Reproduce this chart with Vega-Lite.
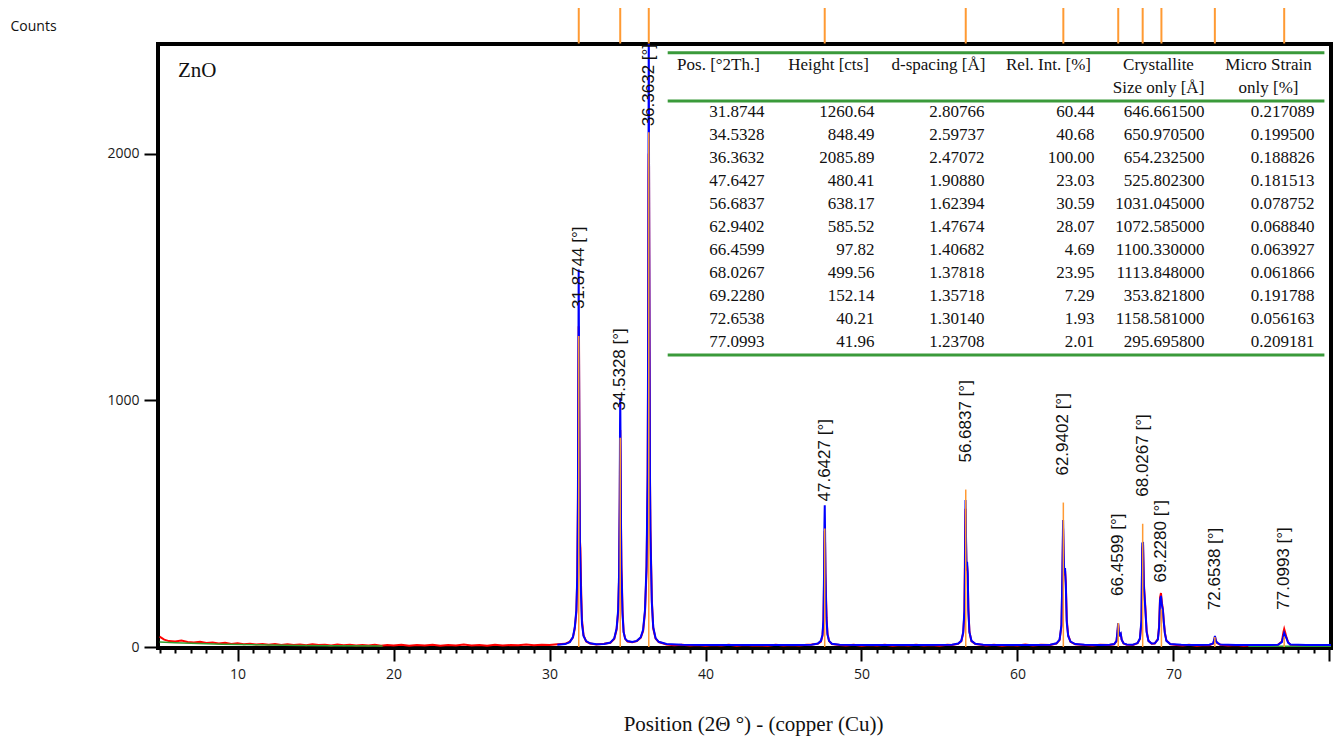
{
  "$schema": "https://vega.github.io/schema/vega-lite/v6.json",
  "width": 1173,
  "height": 604,
  "autosize": {"type": "none"},
  "padding": {"left": 158, "top": 44, "right": 5, "bottom": 90},
  "background": "white",
  "config": {
    "view": {"stroke": "black", "strokeWidth": 4},
    "axis": {"domain": false, "grid": false, "tickColor": "black", "tickWidth": 2, "labelFont": "Open Sans", "labelFontSize": 14, "labelColor": "#1a1a1a"},
    "axisX": {
      "tickCount": 75,
      "labelExpr": "datum.value % 10 === 0 && datum.value < 75 ? datum.label : ''",
      "tickSize": {"condition": {"test": "datum.value % 10 === 0", "value": 13}, "value": 5},
      "labelPadding": 6, "labelOverlap": false, "labelFlush": false, "labelBound": false,
      "titleFont": "Liberation Serif", "titleFontSize": 21, "titleFontWeight": "normal", "titleColor": "#111111",
      "titleX": 595, "titleY": 82, "titleAlign": "center", "titleBaseline": "alphabetic"
    },
    "axisY": {
      "tickCount": 3, "format": "d", "tickSize": 14, "labelPadding": 5,
      "titleAngle": 0, "titleAlign": "left", "titleBaseline": "alphabetic", "titleX": -148, "titleY": -14,
      "titleFont": "Open Sans", "titleFontSize": 14, "titleFontWeight": "normal", "titleColor": "#111111"
    }
  },
  "datasets": {
    "observed": [
      {"tt":5.0,"counts":42},{"tt":5.3,"counts":30},{"tt":5.6,"counts":24},{"tt":6.0,"counts":22},{"tt":6.4,"counts":26},{"tt":6.8,"counts":20},{"tt":7.2,"counts":18},{"tt":7.6,"counts":21},{"tt":8.0,"counts":16},{"tt":8.4,"counts":18},{"tt":8.8,"counts":14},{"tt":9.2,"counts":17},{"tt":9.6,"counts":12},{"tt":10.0,"counts":15},{"tt":10.4,"counts":11},{"tt":10.8,"counts":13},{"tt":11.2,"counts":10},{"tt":11.6,"counts":12},{"tt":12.0,"counts":9},{"tt":12.4,"counts":12},{"tt":12.8,"counts":8},{"tt":13.2,"counts":11},{"tt":13.6,"counts":8},{"tt":14.0,"counts":10},{"tt":14.4,"counts":7},{"tt":14.8,"counts":11},{"tt":15.2,"counts":8},{"tt":15.6,"counts":9},{"tt":16.0,"counts":6},{"tt":16.4,"counts":10},{"tt":16.8,"counts":7},{"tt":17.2,"counts":9},{"tt":17.6,"counts":6},{"tt":18.0,"counts":8},{"tt":18.4,"counts":6},{"tt":18.8,"counts":9},{"tt":19.2,"counts":5},{"tt":19.6,"counts":8},{"tt":20.0,"counts":6},{"tt":20.5,"counts":9},{"tt":21.0,"counts":5},{"tt":21.5,"counts":8},{"tt":22.0,"counts":6},{"tt":22.5,"counts":9},{"tt":23.0,"counts":5},{"tt":23.5,"counts":8},{"tt":24.0,"counts":6},{"tt":24.5,"counts":10},{"tt":25.0,"counts":6},{"tt":25.5,"counts":8},{"tt":26.0,"counts":5},{"tt":26.5,"counts":9},{"tt":27.0,"counts":6},{"tt":27.5,"counts":8},{"tt":28.0,"counts":7},{"tt":28.5,"counts":10},{"tt":29.0,"counts":7},{"tt":29.5,"counts":9},{"tt":30.0,"counts":8},{"tt":30.5,"counts":11},
      {"tt":31.0,"counts":13},{"tt":31.3,"counts":22},{"tt":31.5,"counts":38},{"tt":31.62,"counts":75},{"tt":31.72,"counts":140},{"tt":31.78,"counts":280},{"tt":31.82,"counts":560},{"tt":31.85,"counts":1050},{"tt":31.87,"counts":1300},{"tt":31.89,"counts":1250},{"tt":31.92,"counts":800},{"tt":31.95,"counts":430},{"tt":31.98,"counts":400},{"tt":32.02,"counts":250},{"tt":32.08,"counts":110},{"tt":32.18,"counts":48},{"tt":32.35,"counts":22},{"tt":32.6,"counts":14},{"tt":33.0,"counts":10},{"tt":33.5,"counts":13},{"tt":33.9,"counts":17},
      {"tt":34.15,"counts":33},{"tt":34.3,"counts":70},{"tt":34.4,"counts":140},{"tt":34.46,"counts":280},{"tt":34.5,"counts":560},{"tt":34.52,"counts":780},{"tt":34.535,"counts":880},{"tt":34.55,"counts":800},{"tt":34.58,"counts":520},{"tt":34.61,"counts":330},{"tt":34.64,"counts":260},{"tt":34.68,"counts":150},{"tt":34.75,"counts":62},{"tt":34.85,"counts":33},{"tt":35.0,"counts":22},{"tt":35.3,"counts":19},{"tt":35.6,"counts":24},{"tt":35.85,"counts":38},
      {"tt":36.0,"counts":65},{"tt":36.12,"counts":140},{"tt":36.22,"counts":310},{"tt":36.29,"counts":650},{"tt":36.33,"counts":1300},{"tt":36.35,"counts":1900},{"tt":36.363,"counts":2000},{"tt":36.38,"counts":1950},{"tt":36.41,"counts":1300},{"tt":36.44,"counts":700},{"tt":36.47,"counts":480},{"tt":36.51,"counts":350},{"tt":36.56,"counts":190},{"tt":36.65,"counts":75},{"tt":36.8,"counts":34},{"tt":37.0,"counts":20},{"tt":37.5,"counts":10},{"tt":38.0,"counts":7},{"tt":38.5,"counts":9},{"tt":39.0,"counts":6},{"tt":39.5,"counts":8},{"tt":40.0,"counts":5},{"tt":40.5,"counts":8},{"tt":41.0,"counts":6},{"tt":41.5,"counts":9},{"tt":42.0,"counts":5},{"tt":42.5,"counts":8},{"tt":43.0,"counts":6},{"tt":43.5,"counts":7},{"tt":44.0,"counts":5},{"tt":44.5,"counts":9},{"tt":45.0,"counts":6},{"tt":45.5,"counts":8},{"tt":46.0,"counts":6},{"tt":46.5,"counts":9},
      {"tt":46.8,"counts":10},{"tt":47.2,"counts":13},{"tt":47.4,"counts":22},{"tt":47.5,"counts":45},{"tt":47.56,"counts":100},{"tt":47.6,"counts":260},{"tt":47.625,"counts":420},{"tt":47.645,"counts":470},{"tt":47.665,"counts":420},{"tt":47.69,"counts":300},{"tt":47.72,"counts":220},{"tt":47.76,"counts":120},{"tt":47.82,"counts":55},{"tt":47.92,"counts":24},{"tt":48.1,"counts":12},{"tt":48.6,"counts":8},{"tt":49.0,"counts":6},{"tt":49.5,"counts":9},{"tt":50.0,"counts":5},{"tt":50.5,"counts":8},{"tt":51.0,"counts":6},{"tt":51.5,"counts":9},{"tt":52.0,"counts":5},{"tt":52.5,"counts":8},{"tt":53.0,"counts":6},{"tt":53.5,"counts":9},{"tt":54.0,"counts":6},{"tt":54.5,"counts":8},{"tt":55.0,"counts":5},{"tt":55.5,"counts":9},
      {"tt":55.8,"counts":8},{"tt":56.2,"counts":13},{"tt":56.4,"counts":24},{"tt":56.52,"counts":55},{"tt":56.6,"counts":140},{"tt":56.64,"counts":420},{"tt":56.67,"counts":560},{"tt":56.7,"counts":430},{"tt":56.73,"counts":310},{"tt":56.77,"counts":330},{"tt":56.81,"counts":290},{"tt":56.85,"counts":160},{"tt":56.92,"counts":62},{"tt":57.05,"counts":24},{"tt":57.3,"counts":12},{"tt":57.8,"counts":8},{"tt":58.0,"counts":6},{"tt":58.5,"counts":9},{"tt":59.0,"counts":5},{"tt":59.5,"counts":8},{"tt":60.0,"counts":6},{"tt":60.5,"counts":10},{"tt":61.0,"counts":6},{"tt":61.5,"counts":9},
      {"tt":62.1,"counts":8},{"tt":62.5,"counts":14},{"tt":62.7,"counts":28},{"tt":62.82,"counts":85},{"tt":62.88,"counts":280},{"tt":62.925,"counts":480},{"tt":62.96,"counts":360},{"tt":63.0,"counts":290},{"tt":63.05,"counts":310},{"tt":63.1,"counts":260},{"tt":63.16,"counts":110},{"tt":63.25,"counts":48},{"tt":63.4,"counts":21},{"tt":63.7,"counts":11},{"tt":64.3,"counts":8},{"tt":64.8,"counts":6},{"tt":65.3,"counts":9},
      {"tt":65.9,"counts":8},{"tt":66.2,"counts":11},{"tt":66.35,"counts":24},{"tt":66.42,"counts":65},{"tt":66.455,"counts":92},{"tt":66.5,"counts":58},{"tt":66.56,"counts":48},{"tt":66.62,"counts":52},{"tt":66.68,"counts":30},{"tt":66.8,"counts":14},{"tt":67.0,"counts":9},{"tt":67.4,"counts":8},{"tt":67.7,"counts":15},{"tt":67.85,"counts":33},{"tt":67.95,"counts":100},{"tt":68.0,"counts":400},{"tt":68.05,"counts":415},{"tt":68.1,"counts":260},{"tt":68.15,"counts":210},{"tt":68.2,"counts":160},{"tt":68.28,"counts":65},{"tt":68.4,"counts":24},{"tt":68.6,"counts":13},{"tt":68.8,"counts":14},
      {"tt":69.0,"counts":32},{"tt":69.08,"counts":85},{"tt":69.14,"counts":200},{"tt":69.2,"counts":219},{"tt":69.26,"counts":180},{"tt":69.32,"counts":155},{"tt":69.38,"counts":105},{"tt":69.45,"counts":58},{"tt":69.55,"counts":26},{"tt":69.8,"counts":11},{"tt":70.2,"counts":8},{"tt":70.6,"counts":6},{"tt":71.0,"counts":9},{"tt":71.5,"counts":5},{"tt":72.0,"counts":8},{"tt":72.3,"counts":7},{"tt":72.55,"counts":14},{"tt":72.63,"counts":32},{"tt":72.66,"counts":42},{"tt":72.72,"counts":26},{"tt":72.8,"counts":16},{"tt":73.0,"counts":9},{"tt":73.5,"counts":6},{"tt":74.0,"counts":8},{"tt":74.5,"counts":5},{"tt":75.0,"counts":7},{"tt":75.5,"counts":5},{"tt":76.0,"counts":8},{"tt":76.5,"counts":6},
      {"tt":76.7,"counts":9},{"tt":76.95,"counts":22},{"tt":77.05,"counts":60},{"tt":77.1,"counts":73},{"tt":77.18,"counts":55},{"tt":77.25,"counts":38},{"tt":77.35,"counts":19},{"tt":77.5,"counts":9},{"tt":78.0,"counts":6},{"tt":78.5,"counts":8},{"tt":79.0,"counts":5},{"tt":79.5,"counts":7},{"tt":80.0,"counts":6}
    ],
    "calculated": [
      {"tt":30.5,"counts":9},{"tt":31.0,"counts":12},{"tt":31.3,"counts":20},{"tt":31.5,"counts":40},{"tt":31.62,"counts":80},{"tt":31.72,"counts":150},{"tt":31.78,"counts":290},{"tt":31.82,"counts":600},{"tt":31.85,"counts":1150},{"tt":31.87,"counts":1530},{"tt":31.89,"counts":1200},{"tt":31.92,"counts":700},{"tt":31.95,"counts":420},{"tt":31.98,"counts":340},{"tt":32.02,"counts":210},{"tt":32.08,"counts":95},{"tt":32.18,"counts":45},{"tt":32.35,"counts":24},{"tt":32.6,"counts":15},{"tt":33.0,"counts":11},{"tt":33.5,"counts":12},{"tt":33.9,"counts":18},
      {"tt":34.15,"counts":35},{"tt":34.3,"counts":75},{"tt":34.4,"counts":150},{"tt":34.46,"counts":300},{"tt":34.5,"counts":600},{"tt":34.52,"counts":900},{"tt":34.535,"counts":1010},{"tt":34.55,"counts":860},{"tt":34.58,"counts":500},{"tt":34.61,"counts":310},{"tt":34.64,"counts":240},{"tt":34.68,"counts":135},{"tt":34.75,"counts":60},{"tt":34.85,"counts":34},{"tt":35.0,"counts":24},{"tt":35.3,"counts":20},{"tt":35.6,"counts":25},{"tt":35.85,"counts":40},
      {"tt":36.0,"counts":70},{"tt":36.12,"counts":150},{"tt":36.22,"counts":330},{"tt":36.29,"counts":700},{"tt":36.33,"counts":1400},{"tt":36.35,"counts":2100},{"tt":36.363,"counts":2600},{"tt":36.38,"counts":1960},{"tt":36.41,"counts":1200},{"tt":36.44,"counts":680},{"tt":36.47,"counts":470},{"tt":36.51,"counts":330},{"tt":36.56,"counts":180},{"tt":36.65,"counts":80},{"tt":36.8,"counts":36},{"tt":37.0,"counts":21},{"tt":37.5,"counts":12},{"tt":38.5,"counts":9},{"tt":40.0,"counts":8},{"tt":42.0,"counts":8},{"tt":44.0,"counts":8},{"tt":46.0,"counts":8.5},
      {"tt":46.8,"counts":9},{"tt":47.2,"counts":14},{"tt":47.4,"counts":25},{"tt":47.5,"counts":50},{"tt":47.56,"counts":110},{"tt":47.6,"counts":300},{"tt":47.625,"counts":500},{"tt":47.645,"counts":575},{"tt":47.665,"counts":470},{"tt":47.69,"counts":300},{"tt":47.72,"counts":200},{"tt":47.76,"counts":110},{"tt":47.82,"counts":50},{"tt":47.92,"counts":25},{"tt":48.1,"counts":13},{"tt":48.6,"counts":9},{"tt":50.0,"counts":8},{"tt":52.0,"counts":8},{"tt":54.0,"counts":8},
      {"tt":55.8,"counts":9},{"tt":56.2,"counts":14},{"tt":56.4,"counts":25},{"tt":56.52,"counts":60},{"tt":56.6,"counts":150},{"tt":56.64,"counts":350},{"tt":56.67,"counts":596},{"tt":56.7,"counts":450},{"tt":56.73,"counts":330},{"tt":56.77,"counts":345},{"tt":56.81,"counts":300},{"tt":56.85,"counts":150},{"tt":56.92,"counts":60},{"tt":57.05,"counts":25},{"tt":57.3,"counts":13},{"tt":57.8,"counts":9},{"tt":59.0,"counts":8},{"tt":61.0,"counts":8},
      {"tt":62.1,"counts":9},{"tt":62.5,"counts":15},{"tt":62.7,"counts":30},{"tt":62.82,"counts":90},{"tt":62.88,"counts":300},{"tt":62.925,"counts":515},{"tt":62.96,"counts":380},{"tt":63.0,"counts":300},{"tt":63.05,"counts":320},{"tt":63.1,"counts":250},{"tt":63.16,"counts":100},{"tt":63.25,"counts":45},{"tt":63.4,"counts":22},{"tt":63.7,"counts":12},{"tt":64.3,"counts":9},{"tt":65.3,"counts":8},
      {"tt":65.9,"counts":9},{"tt":66.2,"counts":12},{"tt":66.35,"counts":25},{"tt":66.42,"counts":70},{"tt":66.455,"counts":97},{"tt":66.5,"counts":60},{"tt":66.56,"counts":50},{"tt":66.62,"counts":55},{"tt":66.68,"counts":30},{"tt":66.8,"counts":15},{"tt":67.0,"counts":10},{"tt":67.4,"counts":9},{"tt":67.7,"counts":16},{"tt":67.85,"counts":35},{"tt":67.95,"counts":110},{"tt":68.0,"counts":420},{"tt":68.05,"counts":426},{"tt":68.1,"counts":250},{"tt":68.15,"counts":200},{"tt":68.2,"counts":150},{"tt":68.28,"counts":60},{"tt":68.4,"counts":25},{"tt":68.6,"counts":14},{"tt":68.8,"counts":15},
      {"tt":69.0,"counts":30},{"tt":69.08,"counts":80},{"tt":69.14,"counts":190},{"tt":69.2,"counts":207},{"tt":69.26,"counts":170},{"tt":69.32,"counts":150},{"tt":69.38,"counts":100},{"tt":69.45,"counts":55},{"tt":69.55,"counts":25},{"tt":69.8,"counts":12},{"tt":70.5,"counts":9},{"tt":71.5,"counts":8},
      {"tt":72.3,"counts":9},{"tt":72.55,"counts":15},{"tt":72.63,"counts":35},{"tt":72.66,"counts":45},{"tt":72.72,"counts":25},{"tt":72.8,"counts":18},{"tt":73.0,"counts":10},{"tt":74.0,"counts":8},{"tt":75.0,"counts":8},{"tt":76.0,"counts":8},
      {"tt":76.7,"counts":9},{"tt":76.95,"counts":20},{"tt":77.05,"counts":45},{"tt":77.1,"counts":57},{"tt":77.18,"counts":45},{"tt":77.25,"counts":35},{"tt":77.35,"counts":18},{"tt":77.5,"counts":10},{"tt":78.5,"counts":8},{"tt":80.1,"counts":8}
    ],
    "background": [
      {"tt":5.0,"counts":20,"part":"low"},{"tt":6.0,"counts":17,"part":"low"},{"tt":7.0,"counts":15,"part":"low"},{"tt":8.0,"counts":13,"part":"low"},{"tt":9.0,"counts":11.5,"part":"low"},{"tt":10.0,"counts":10,"part":"low"},{"tt":12.0,"counts":8,"part":"low"},{"tt":14.0,"counts":6.5,"part":"low"},{"tt":16.0,"counts":5.5,"part":"low"},{"tt":19.3,"counts":4.5,"part":"low"},
      {"tt":74.8,"counts":3,"part":"high"},{"tt":80.1,"counts":3,"part":"high"}
    ],
    "peaks": [
      {"pos":31.8744,"height":1260.64,"d":2.80766,"relint":60.44,"size":646.6615,"strain":0.217089},
      {"pos":34.5328,"height":848.49,"d":2.59737,"relint":40.68,"size":650.9705,"strain":0.1995},
      {"pos":36.3632,"height":2085.89,"d":2.47072,"relint":100.0,"size":654.2325,"strain":0.188826},
      {"pos":47.6427,"height":480.41,"d":1.9088,"relint":23.03,"size":525.8023,"strain":0.181513},
      {"pos":56.6837,"height":638.17,"d":1.62394,"relint":30.59,"size":1031.045,"strain":0.078752},
      {"pos":62.9402,"height":585.52,"d":1.47674,"relint":28.07,"size":1072.585,"strain":0.06884},
      {"pos":66.4599,"height":97.82,"d":1.40682,"relint":4.69,"size":1100.33,"strain":0.063927},
      {"pos":68.0267,"height":499.56,"d":1.37818,"relint":23.95,"size":1113.848,"strain":0.061866},
      {"pos":69.228,"height":152.14,"d":1.35718,"relint":7.29,"size":353.8218,"strain":0.191788},
      {"pos":72.6538,"height":40.21,"d":1.3014,"relint":1.93,"size":1158.581,"strain":0.056163},
      {"pos":77.0993,"height":41.96,"d":1.23708,"relint":2.01,"size":295.6958,"strain":0.209181}
    ],
    "headers": [
      {"col":1,"row":-1,"text":"Pos. [°2Th.]"},
      {"col":2,"row":-1,"text":"Height [cts]"},
      {"col":3,"row":-1,"text":"d-spacing [Å]"},
      {"col":4,"row":-1,"text":"Rel. Int. [%]"},
      {"col":5,"row":-1,"text":"Crystallite"},
      {"col":5,"row":0,"text":"Size only [Å]"},
      {"col":6,"row":-1,"text":"Micro Strain"},
      {"col":6,"row":0,"text":"only [%]"}
    ]
  },
  "layer": [
    {
      "layer": [
        {
          "data": {"name": "observed"},
          "mark": {"type": "line", "color": "#ff0000", "strokeWidth": 2, "clip": true},
          "encoding": {
            "x": {"field": "tt", "type": "quantitative", "title": "Position (2Θ °) - (copper (Cu))", "scale": {"domain": [4.9, 80.1], "nice": false, "zero": false}},
            "y": {"field": "counts", "type": "quantitative", "title": "Counts", "scale": {"domain": [-4, 2444], "nice": false, "zero": false}}
          }
        },
        {
          "data": {"name": "background"},
          "mark": {"type": "line", "color": "#2e9e2e", "strokeWidth": 1.5, "clip": true},
          "encoding": {
            "x": {"field": "tt", "type": "quantitative"},
            "y": {"field": "counts", "type": "quantitative"},
            "detail": {"field": "part"}
          }
        },
        {
          "data": {"name": "calculated"},
          "mark": {"type": "line", "color": "#0000ff", "strokeWidth": 2, "clip": true},
          "encoding": {
            "x": {"field": "tt", "type": "quantitative"},
            "y": {"field": "counts", "type": "quantitative"}
          }
        },
        {
          "data": {"name": "peaks"},
          "mark": {"type": "rule", "color": "#ff9a33", "strokeWidth": 1.5, "clip": true},
          "encoding": {
            "x": {"field": "pos", "type": "quantitative"},
            "y": {"field": "height", "type": "quantitative"},
            "y2": {"datum": 0}
          }
        },
        {
          "data": {"name": "peaks"},
          "mark": {"type": "rule", "color": "#ff9a33", "strokeWidth": 2},
          "encoding": {
            "x": {"field": "pos", "type": "quantitative"},
            "y": {"datum": 2446, "type": "quantitative"},
            "y2": {"datum": 2590}
          }
        },
        {
          "data": {"name": "peaks"},
          "mark": {"type": "text", "angle": 270, "align": "left", "baseline": "middle", "font": "Liberation Sans", "fontSize": 17, "color": "#111111",
            "dx": {"expr": "datum.height > 2000 ? 6 : 27"},
            "text": {"expr": "format(datum.pos, '.4f') + ' [°]'"}},
          "encoding": {
            "x": {"field": "pos", "type": "quantitative"},
            "y": {"field": "height", "type": "quantitative"}
          }
        },
        {
          "data": {"values": [{"sample": "ZnO"}]},
          "mark": {"type": "text", "align": "left", "baseline": "alphabetic", "font": "Liberation Serif", "fontSize": 21, "color": "#111111"},
          "encoding": {
            "x": {"datum": 6.18, "type": "quantitative"},
            "y": {"datum": 2310, "type": "quantitative"},
            "text": {"field": "sample"}
          }
        }
      ]
    },
    {
      "data": {"name": "peaks"},
      "transform": [{"window": [{"op": "row_number", "as": "row"}]}],
      "layer": [
        {
          "data": {"values": [{}]},
          "mark": {"type": "rule", "color": "#3a9a3a", "strokeWidth": 3},
          "encoding": {
            "x": {"datum": 0.12, "type": "quantitative", "scale": {"domain": [-4.5136, 6.15], "nice": false, "zero": false}, "axis": null},
            "x2": {"datum": 6.09},
            "y": {"datum": -1.56, "type": "quantitative", "scale": {"domain": [-1.9435, 24.317], "nice": false, "zero": false, "reverse": true}, "axis": null}
          }
        },
        {
          "data": {"values": [{}]},
          "mark": {"type": "rule", "color": "#3a9a3a", "strokeWidth": 3},
          "encoding": {
            "x": {"datum": 0.12, "type": "quantitative", "axis": null},
            "x2": {"datum": 6.09},
            "y": {"datum": 0.535, "type": "quantitative", "axis": null}
          }
        },
        {
          "data": {"values": [{}]},
          "mark": {"type": "rule", "color": "#3a9a3a", "strokeWidth": 3},
          "encoding": {
            "x": {"datum": 0.12, "type": "quantitative", "axis": null},
            "x2": {"datum": 6.09},
            "y": {"datum": 11.58, "type": "quantitative", "axis": null}
          }
        },
        {
          "data": {"name": "headers"},
          "mark": {"type": "text", "align": "center", "baseline": "middle", "font": "Liberation Serif", "fontSize": 17, "color": "#111111", "dx": -46, "dy": -1},
          "encoding": {
            "x": {"field": "col", "type": "quantitative", "axis": null},
            "y": {"field": "row", "type": "quantitative", "axis": null},
            "text": {"field": "text"}
          }
        },
        {
          "mark": {"type": "text", "align": "right", "baseline": "middle", "font": "Liberation Serif", "fontSize": 17, "color": "#111111"},
          "encoding": {
            "x": {"datum": 1, "type": "quantitative", "axis": null},
            "y": {"field": "row", "type": "quantitative", "axis": null},
            "text": {"field": "pos", "type": "quantitative", "format": ".4f"}
          }
        },
        {
          "mark": {"type": "text", "align": "right", "baseline": "middle", "font": "Liberation Serif", "fontSize": 17, "color": "#111111"},
          "encoding": {
            "x": {"datum": 2, "type": "quantitative", "axis": null},
            "y": {"field": "row", "type": "quantitative", "axis": null},
            "text": {"field": "height", "type": "quantitative", "format": ".2f"}
          }
        },
        {
          "mark": {"type": "text", "align": "right", "baseline": "middle", "font": "Liberation Serif", "fontSize": 17, "color": "#111111"},
          "encoding": {
            "x": {"datum": 3, "type": "quantitative", "axis": null},
            "y": {"field": "row", "type": "quantitative", "axis": null},
            "text": {"field": "d", "type": "quantitative", "format": ".5f"}
          }
        },
        {
          "mark": {"type": "text", "align": "right", "baseline": "middle", "font": "Liberation Serif", "fontSize": 17, "color": "#111111"},
          "encoding": {
            "x": {"datum": 4, "type": "quantitative", "axis": null},
            "y": {"field": "row", "type": "quantitative", "axis": null},
            "text": {"field": "relint", "type": "quantitative", "format": ".2f"}
          }
        },
        {
          "mark": {"type": "text", "align": "right", "baseline": "middle", "font": "Liberation Serif", "fontSize": 17, "color": "#111111"},
          "encoding": {
            "x": {"datum": 5, "type": "quantitative", "axis": null},
            "y": {"field": "row", "type": "quantitative", "axis": null},
            "text": {"field": "size", "type": "quantitative", "format": ".6f"}
          }
        },
        {
          "mark": {"type": "text", "align": "right", "baseline": "middle", "font": "Liberation Serif", "fontSize": 17, "color": "#111111"},
          "encoding": {
            "x": {"datum": 6, "type": "quantitative", "axis": null},
            "y": {"field": "row", "type": "quantitative", "axis": null},
            "text": {"field": "strain", "type": "quantitative", "format": ".6f"}
          }
        }
      ]
    }
  ],
  "resolve": {"scale": {"x": "independent", "y": "independent"}}
}
